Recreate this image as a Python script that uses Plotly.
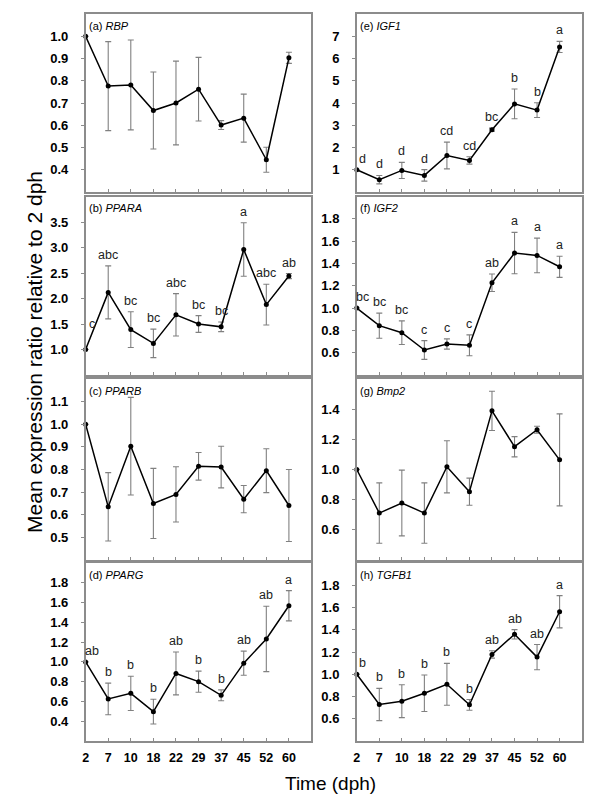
import plotly.graph_objects as go

days = ["2", "7", "10", "18", "22", "29", "37", "45", "52", "60"]

rbp_mean = [1.0, 0.776, 0.781, 0.666, 0.700, 0.762, 0.601, 0.632, 0.445, 0.903]
rbp_err = [0, 0.200, 0.202, 0.173, 0.188, 0.143, 0.020, 0.108, 0.056, 0.025]

ppara_mean = [1.0, 2.12, 1.39, 1.12, 1.68, 1.50, 1.445, 2.96, 1.88, 2.44]
ppara_err = [0, 0.52, 0.35, 0.28, 0.415, 0.165, 0.095, 0.525, 0.40, 0.05]
ppara_lbl = ["c", "abc", "bc", "bc", "abc", "bc", "bc", "a", "abc", "ab"]

pparb_mean = [1.0, 0.635, 0.903, 0.650, 0.690, 0.814, 0.811, 0.669, 0.795, 0.641]
pparb_err = [0, 0.151, 0.216, 0.155, 0.122, 0.061, 0.092, 0.060, 0.097, 0.159]

ppar_g_mean = [1.0, 0.625, 0.682, 0.497, 0.883, 0.800, 0.662, 0.987, 1.232, 1.568]
ppar_g_err = [0, 0.160, 0.173, 0.125, 0.217, 0.107, 0.055, 0.122, 0.330, 0.153]
ppar_g_lbl = ["ab", "b", "b", "b", "ab", "b", "b", "ab", "ab", "a"]

igf1_mean = [1.0, 0.553, 0.97, 0.747, 1.64, 1.42, 2.80, 3.96, 3.68, 6.52]
igf1_err = [0, 0.19, 0.36, 0.26, 0.60, 0.165, 0.07, 0.67, 0.33, 0.25]
igf1_lbl = ["d", "d", "d", "d", "cd", "cd", "bc", "b", "b", "a"]

igf2_mean = [1.0, 0.842, 0.779, 0.624, 0.678, 0.666, 1.227, 1.493, 1.472, 1.370]
igf2_err = [0, 0.113, 0.106, 0.084, 0.046, 0.094, 0.078, 0.185, 0.155, 0.095]
igf2_lbl = ["bc", "bc", "bc", "c", "c", "c", "ab", "a", "a", "a"]

bmp2_mean = [1.0, 0.711, 0.778, 0.711, 1.018, 0.853, 1.389, 1.151, 1.264, 1.064]
bmp2_err = [0, 0.200, 0.218, 0.200, 0.173, 0.090, 0.130, 0.067, 0.023, 0.305]

tgfb1_mean = [1.0, 0.728, 0.758, 0.829, 0.910, 0.725, 1.178, 1.359, 1.154, 1.562]
tgfb1_err = [0, 0.145, 0.148, 0.164, 0.188, 0.048, 0.033, 0.042, 0.113, 0.145]
tgfb1_lbl = ["b", "b", "b", "b", "b", "b", "ab", "ab", "ab", "a"]

rbp_ticks = [0.4, 0.5, 0.6, 0.7, 0.8, 0.9, 1.0]
ppara_ticks = [1.0, 1.5, 2.0, 2.5, 3.0, 3.5]
pparb_ticks = [0.5, 0.6, 0.7, 0.8, 0.9, 1.0, 1.1]
ppar_g_ticks = [0.4, 0.6, 0.8, 1.0, 1.2, 1.4, 1.6, 1.8]
igf1_ticks = [1, 2, 3, 4, 5, 6, 7]
igf2_ticks = [0.6, 0.8, 1.0, 1.2, 1.4, 1.6, 1.8]
bmp2_ticks = [0.6, 0.8, 1.0, 1.2, 1.4]
tgfb1_ticks = [0.6, 0.8, 1.0, 1.2, 1.4, 1.6, 1.8]

panels = [
    # tag, gene, mean, err, labels, yrange, ticks, fmt, col, row
    ("(a)", "RBP", rbp_mean, rbp_err, None, [0.3, 1.1], rbp_ticks, "{:.1f}", 0, 0),
    ("(b)", "PPARA", ppara_mean, ppara_err, ppara_lbl, [0.5, 4.0], ppara_ticks, "{:.1f}", 0, 1),
    ("(c)", "PPARB", pparb_mean, pparb_err, None, [0.4, 1.2], pparb_ticks, "{:.1f}", 0, 2),
    ("(d)", "PPARG", ppar_g_mean, ppar_g_err, ppar_g_lbl, [0.2, 2.0], ppar_g_ticks, "{:.1f}", 0, 3),
    ("(e)", "IGF1", igf1_mean, igf1_err, igf1_lbl, [0, 8], igf1_ticks, "{:d}", 1, 0),
    ("(f)", "IGF2", igf2_mean, igf2_err, igf2_lbl, [0.4, 2.0], igf2_ticks, "{:.1f}", 1, 1),
    ("(g)", "Bmp2", bmp2_mean, bmp2_err, None, [0.4, 1.6], bmp2_ticks, "{:.1f}", 1, 2),
    ("(h)", "TGFB1", tgfb1_mean, tgfb1_err, tgfb1_lbl, [0.4, 2.0], tgfb1_ticks, "{:.1f}", 1, 3),
]

W, H = 600, 800
col_px = [(75, 302), (347.5, 574)]
row_px = [(6, 184), (188.5, 367), (371, 552), (555, 733)]

fig = go.Figure()
FONT = "Liberation Sans, Arial, sans-serif"
AXC = "#8c8c8c"
xi = list(range(len(days)))

layout = {}
annotations = []
for k, (tag, gene, mean, err, lbl, yr, ticks, fmt, c, r) in enumerate(panels):
    n = k + 1
    xa = "x" if n == 1 else f"x{n}"
    ya = "y" if n == 1 else f"y{n}"
    fig.add_trace(go.Scatter(
        x=xi, y=mean, xaxis=xa, yaxis=ya, mode="lines+markers",
        line=dict(color="black", width=1.5),
        marker=dict(color="black", size=5),
        error_y=dict(type="data", array=err, visible=True, color="#808080",
                     thickness=1.1, width=3),
        showlegend=False, cliponaxis=False,
    ))
    x0, x1 = col_px[c]
    y0, y1 = row_px[r]
    layout[f"xaxis{'' if n == 1 else n}"] = dict(
        domain=[x0 / W, x1 / W], anchor=ya, range=[0, 10],
        tickvals=xi, ticktext=days, showticklabels=(r == 3),
        ticks="inside", ticklen=3, tickcolor=AXC, tickwidth=1,
        showline=True, linecolor=AXC, linewidth=1.5, mirror=True,
        showgrid=False, zeroline=False, ticklabelstandoff=4,
        tickfont=dict(family=FONT, size=12.5, color="black", weight="bold"),
    )
    layout[f"yaxis{'' if n == 1 else n}"] = dict(
        domain=[1 - y1 / H, 1 - y0 / H], anchor=xa, range=yr,
        tickvals=ticks, ticktext=[fmt.format(t) for t in ticks],
        ticks="outside", ticklen=3, tickcolor=AXC, tickwidth=1,
        showline=True, linecolor=AXC, linewidth=1.5, mirror=True,
        showgrid=False, zeroline=False, ticklabelstandoff=10,
        tickfont=dict(family=FONT, size=13, color="black", weight="bold"),
    )
    annotations.append(dict(
        text=f"{tag} <i>{gene}</i>", xref=f"{xa} domain", yref=f"{ya} domain",
        x=0, y=1, xanchor="left", yanchor="top", xshift=1, yshift=-4,
        showarrow=False, font=dict(family=FONT, size=11, color="black"),
    ))
    if lbl:
        for i, (m, e, t) in enumerate(zip(mean, err, lbl)):
            extra = 15 if (tag == "(b)" and i == 0) else 0
            annotations.append(dict(
                text=t, xref=xa, yref=ya, x=i, y=m + e,
                xanchor="center", yanchor="bottom",
                xshift=6 if i == 0 else 0, yshift=2 + extra,
                showarrow=False, font=dict(family=FONT, size=12.5, color="#222222"),
            ))

annotations.append(dict(
    text="Mean expression ratio relative to 2 dph", xref="paper", yref="paper",
    x=24 / W, y=1 - 344 / H, xanchor="center", yanchor="middle", textangle=-90,
    showarrow=False, font=dict(family=FONT, size=21, color="black"),
))
annotations.append(dict(
    text="Time (dph)", xref="paper", yref="paper",
    x=321 / W, y=1 - 775 / H, xanchor="center", yanchor="middle",
    showarrow=False, font=dict(family=FONT, size=19, color="black"),
))

fig.update_layout(
    width=W, height=H, margin=dict(l=0, r=0, t=0, b=0),
    paper_bgcolor="white", plot_bgcolor="white",
    annotations=annotations, **layout,
)
fig.write_html("out.html")
